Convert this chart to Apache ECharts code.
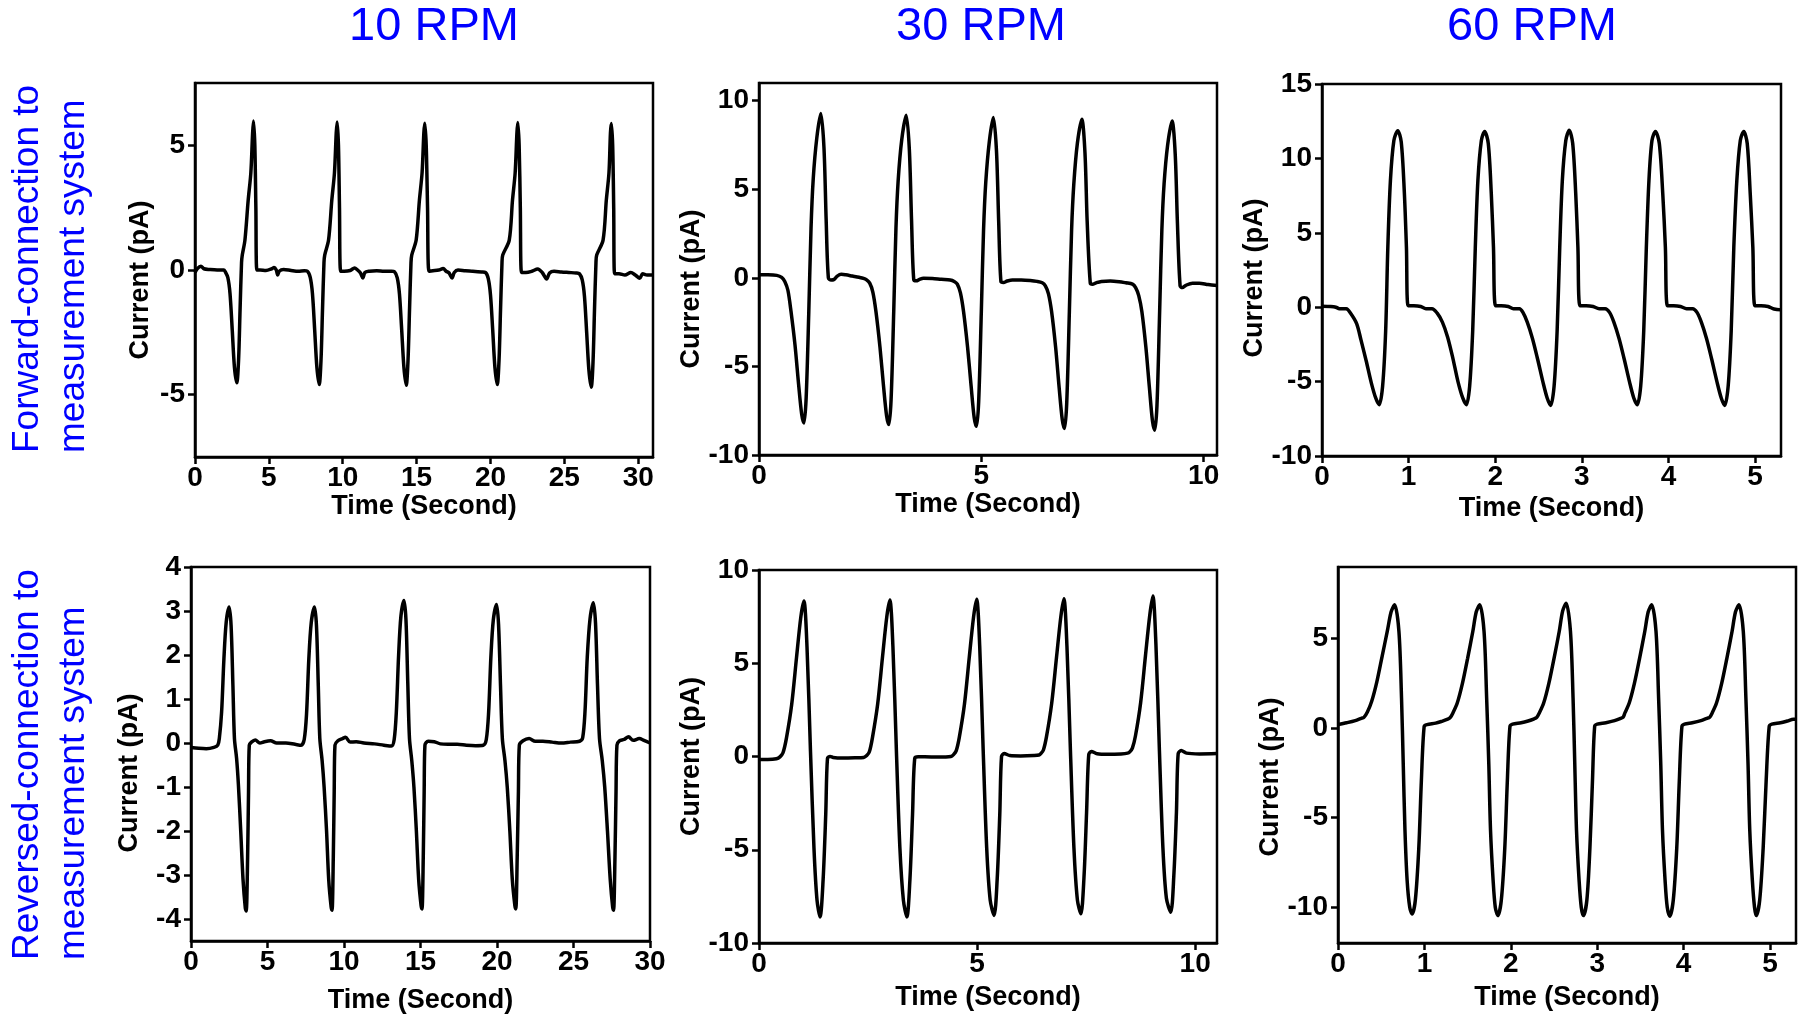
<!DOCTYPE html>
<html><head><meta charset="utf-8">
<script src="https://cdn.jsdelivr.net/npm/echarts@6/dist/echarts.min.js"></script>
<style>html,body{margin:0;padding:0;background:#fff}#c{width:1803px;height:1018px}</style>
</head><body><div id="c"></div>
<script>
// ---------- text ----------
const columnTitles = ['10 RPM', '30 RPM', '60 RPM'];
const rowLabels = ['Forward-connection to\nmeasurement system', 'Reversed-connection to\nmeasurement system'];
const xName = 'Time (Second)';
const yName = 'Current (pA)';

// ---------- tick labels ----------
const xTicks10 = [0, 5, 10, 15, 20, 25, 30];
const xTicks30 = [0, 5, 10];
const xTicks60 = [0, 1, 2, 3, 4, 5];
const yTicksFwd10 = [-5, 0, 5];
const yTicksFwd30 = [-10, -5, 0, 5, 10];
const yTicksFwd60 = [-10, -5, 0, 5, 10, 15];
const yTicksRev10 = [-4, -3, -2, -1, 0, 1, 2, 3, 4];
const yTicksRev30 = [-10, -5, 0, 5, 10];
const yTicksRev60 = [-10, -5, 0, 5];

// ---------- series values [time s, current pA] ----------
const fwd10 = [
[0,-0.1],[0.15,0.05],[0.4,0.15],[0.6,0.05],[1.0,0.02],[1.5,0.0],[1.95,0.0],
[2.03,-0.05],[2.22,-0.3],[2.37,-0.95],[2.52,-2.4],[2.67,-3.9],[2.83,-4.52],[2.95,-3.6],[3.05,-1.6],[3.15,0.3],[3.2,0.6],[3.38,1.2],[3.6,2.8],[3.78,3.9],[3.9,5.5],[3.96,5.98],[4.05,5.0],[4.12,2.5],[4.19,0.0],
[4.4,0.0],[4.8,-0.02],[5.2,0.05],[5.35,0.1],[5.5,0.0],[5.6,-0.2],[5.7,-0.05],[6.0,0.02],[6.5,-0.02],[7.0,-0.05],[7.4,-0.03],
[7.61,-0.05],[7.8,-0.3],[7.95,-0.95],[8.1,-2.4],[8.25,-3.9],[8.41,-4.59],[8.53,-3.6],[8.63,-1.6],[8.73,0.3],[8.78,0.6],[9.04,1.2],[9.26,2.8],[9.44,3.9],[9.56,5.5],[9.62,5.94],[9.71,5.0],[9.78,2.5],[9.86,-0.05],
[10.1,-0.05],[10.5,-0.02],[10.8,0.08],[11.0,0.0],[11.2,-0.12],[11.36,-0.32],[11.5,-0.1],[11.8,-0.05],[12.3,-0.03],[12.8,-0.05],[13.3,-0.05],
[13.5,-0.07],[13.69,-0.32],[13.84,-0.97],[13.99,-2.4],[14.14,-3.9],[14.3,-4.62],[14.42,-3.6],[14.52,-1.6],[14.62,0.3],[14.67,0.6],[14.97,1.2],[15.19,2.8],[15.37,3.9],[15.49,5.5],[15.55,5.89],[15.65,5.0],[15.74,2.5],[15.84,-0.05],
[16.1,-0.03],[16.5,0.0],[16.8,0.06],[17.0,-0.05],[17.2,-0.12],[17.4,-0.32],[17.55,-0.1],[17.8,0.0],[18.3,-0.03],[18.8,-0.05],[19.4,-0.08],
[19.66,-0.1],[19.85,-0.35],[20.0,-1.0],[20.15,-2.4],[20.3,-3.9],[20.46,-4.59],[20.58,-3.6],[20.68,-1.6],[20.78,0.3],[20.83,0.6],[21.27,1.2],[21.49,2.8],[21.67,3.9],[21.79,5.5],[21.85,5.92],[21.94,5.0],[22.02,2.5],[22.1,-0.1],
[22.4,-0.1],[22.8,-0.05],[23.2,0.04],[23.5,-0.1],[23.8,-0.36],[24.0,-0.12],[24.3,-0.05],[24.8,-0.08],[25.3,-0.1],[25.8,-0.12],
[26.02,-0.15],[26.21,-0.4],[26.36,-1.05],[26.51,-2.5],[26.66,-4.0],[26.82,-4.7],[26.94,-3.7],[27.04,-1.6],[27.14,0.3],[27.19,0.6],[27.62,1.2],[27.84,2.8],[28.02,3.9],[28.12,5.5],[28.18,5.88],[28.27,5.0],[28.34,2.5],[28.4,-0.15],
[28.7,-0.15],[29.1,-0.2],[29.5,-0.1],[29.8,-0.2],[30.1,-0.33],[30.3,-0.15],[30.6,-0.2],[31.0,-0.2]
];

const fwd30 = [
[0,0.17],[0.2,0.17],[0.4,0.14],[0.51,0.03],[0.58,-0.2],[0.65,-0.7],[0.72,-1.9],[0.81,-3.8],[0.89,-6.0],[0.96,-7.7],[1.01,-8.19],[1.06,-6.8],[1.12,-1.9],[1.17,2.8],[1.22,5.6],[1.3,7.9],[1.39,9.28],[1.46,7.4],[1.51,3.3],[1.56,0.0],[1.62,-0.12],[1.68,-0.1],[1.76,0.1],[1.85,0.2],[1.95,0.17],[2.1,0.1],[2.25,0.03],[2.35,-0.03],
[2.42,-0.12],[2.49,-0.3],[2.56,-0.8],[2.63,-1.9],[2.72,-3.9],[2.8,-6.1],[2.87,-7.8],[2.92,-8.28],[2.97,-6.9],[3.03,-1.9],[3.08,2.8],[3.13,5.5],[3.21,7.8],[3.31,9.18],[3.38,7.3],[3.43,3.3],[3.48,-0.1],[3.54,-0.17],[3.6,-0.1],[3.7,-0.02],[3.9,-0.03],[4.1,-0.08],[4.3,-0.12],
[4.39,-0.2],[4.46,-0.35],[4.53,-0.85],[4.6,-1.9],[4.69,-3.9],[4.77,-6.1],[4.84,-7.9],[4.89,-8.38],[4.94,-7.0],[5.0,-1.9],[5.05,2.7],[5.1,5.4],[5.18,7.7],[5.27,9.05],[5.34,7.2],[5.39,3.2],[5.44,-0.2],[5.5,-0.26],[5.58,-0.18],[5.7,-0.12],[5.9,-0.12],[6.1,-0.15],[6.25,-0.2],
[6.37,-0.28],[6.44,-0.45],[6.51,-0.9],[6.58,-1.9],[6.67,-3.9],[6.75,-6.2],[6.82,-8.0],[6.87,-8.5],[6.92,-7.1],[6.98,-1.9],[7.03,2.7],[7.08,5.3],[7.16,7.6],[7.26,8.96],[7.33,7.1],[7.38,3.2],[7.45,-0.3],[7.5,-0.36],[7.58,-0.28],[7.7,-0.2],[7.9,-0.18],[8.1,-0.22],[8.25,-0.28],
[8.4,-0.35],[8.47,-0.55],[8.54,-1.0],[8.61,-1.9],[8.7,-3.9],[8.78,-6.2],[8.85,-8.1],[8.9,-8.6],[8.95,-7.2],[9.01,-1.9],[9.06,2.7],[9.11,5.3],[9.19,7.5],[9.29,8.86],[9.36,7.0],[9.41,3.1],[9.47,-0.45],[9.52,-0.55],[9.6,-0.42],[9.75,-0.3],[9.9,-0.3],[10.1,-0.38],[10.3,-0.43]
];

const fwd60 = [
[0,0.07],[0.1,0.05],[0.16,0.0],[0.2,-0.1],[0.28,-0.11],[0.33,-0.4],[0.4,-1.1],[0.45,-2.2],[0.51,-3.6],[0.57,-5.1],[0.62,-6.1],[0.66,-6.55],[0.7,-5.3],[0.735,-1.6],[0.76,4.0],[0.79,8.5],[0.83,11.2],[0.875,11.86],[0.915,11.1],[0.95,7.8],[0.975,4.0],[0.995,0.1],[1.06,0.1],[1.14,0.05],[1.2,-0.1],[1.27,-0.1],
[1.33,-0.4],[1.39,-1.0],[1.45,-2.0],[1.51,-3.4],[1.57,-5.0],[1.625,-6.1],[1.667,-6.55],[1.705,-5.3],[1.74,-1.6],[1.77,4.0],[1.8,8.5],[1.84,11.2],[1.878,11.81],[1.92,11.0],[1.955,7.6],[1.98,4.0],[2.005,0.1],[2.07,0.1],[2.15,0.05],[2.21,-0.1],[2.28,-0.1],
[2.32,-0.35],[2.37,-1.0],[2.43,-2.1],[2.49,-3.5],[2.55,-5.0],[2.6,-6.1],[2.64,-6.6],[2.68,-5.3],[2.715,-1.6],[2.745,4.0],[2.775,8.5],[2.815,11.2],[2.855,11.9],[2.895,11.0],[2.93,7.6],[2.955,4.0],[2.98,0.1],[3.05,0.1],[3.13,0.05],[3.2,-0.1],[3.27,-0.1],
[3.32,-0.35],[3.37,-1.0],[3.43,-2.1],[3.49,-3.5],[3.55,-5.0],[3.6,-6.1],[3.64,-6.55],[3.68,-5.3],[3.715,-1.6],[3.745,4.0],[3.775,8.5],[3.81,11.2],[3.85,11.81],[3.895,11.0],[3.935,7.6],[3.965,4.0],[3.99,0.1],[4.06,0.1],[4.14,0.05],[4.21,-0.1],[4.28,-0.1],
[4.33,-0.35],[4.38,-1.0],[4.44,-2.1],[4.5,-3.5],[4.56,-5.0],[4.61,-6.1],[4.65,-6.6],[4.69,-5.3],[4.725,-1.6],[4.755,4.0],[4.79,8.5],[4.83,11.2],[4.87,11.81],[4.91,11.0],[4.945,7.6],[4.975,4.0],[5.0,0.1],[5.07,0.1],[5.15,0.05],[5.22,-0.12],[5.3,-0.18]
];

const rev10 = [
[0,-0.1],[0.5,-0.12],[1.0,-0.13],[1.5,-0.1],[1.75,-0.05],
[1.85,0.1],[2.0,0.7],[2.15,1.9],[2.3,2.74],[2.49,3.09],[2.62,2.67],[2.74,1.3],[2.84,0.1],[2.98,-0.35],[3.1,-0.96],[3.25,-2.0],[3.4,-3.1],[3.55,-3.75],[3.61,-3.82],[3.7,-2.6],[3.76,-1.1],[3.81,-0.05],[3.95,0.02],[4.2,0.07],[4.5,0.0],[4.8,0.03],[5.2,0.05],[5.6,0.0],[6.2,0.0],[6.8,-0.03],[7.2,-0.05],
[7.4,0.08],[7.55,0.65],[7.7,1.9],[7.86,2.74],[8.07,3.09],[8.2,2.67],[8.32,1.3],[8.42,0.1],[8.57,-0.4],[8.7,-1.0],[8.86,-2.0],[9.0,-3.1],[9.16,-3.73],[9.22,-3.8],[9.3,-2.6],[9.36,-1.1],[9.41,-0.05],[9.6,0.05],[9.9,0.1],[10.1,0.13],[10.4,0.02],[10.8,0.03],[11.3,0.0],[12.0,-0.02],[12.6,-0.05],[13.1,-0.07],
[13.28,0.08],[13.42,0.7],[13.57,2.0],[13.72,2.88],[13.92,3.24],[14.05,2.8],[14.17,1.35],[14.28,0.1],[14.43,-0.4],[14.57,-1.0],[14.73,-2.0],[14.88,-3.1],[15.04,-3.7],[15.1,-3.77],[15.18,-2.6],[15.24,-1.1],[15.29,-0.05],[15.5,0.04],[15.9,0.03],[16.3,-0.02],[16.8,-0.03],[17.4,-0.03],[18.0,-0.05],[18.6,-0.06],[19.1,-0.05],
[19.3,0.08],[19.45,0.68],[19.6,1.95],[19.76,2.8],[19.97,3.15],[20.1,2.7],[20.23,1.3],[20.35,0.1],[20.52,-0.4],[20.67,-1.0],[20.84,-2.0],[21.0,-3.1],[21.17,-3.7],[21.23,-3.77],[21.32,-2.6],[21.4,-1.1],[21.46,-0.05],[21.7,0.05],[22.1,0.1],[22.5,0.04],[23.0,0.04],[23.6,0.02],[24.2,0.0],[24.8,0.02],[25.4,0.04],
[25.6,0.12],[25.75,0.7],[25.9,1.95],[26.08,2.82],[26.3,3.19],[26.44,2.72],[26.57,1.3],[26.7,0.1],[26.88,-0.4],[27.04,-1.0],[27.22,-2.0],[27.4,-3.1],[27.56,-3.73],[27.62,-3.8],[27.71,-2.6],[27.78,-1.1],[27.84,-0.05],[28.0,0.05],[28.3,0.08],[28.6,0.14],[28.9,0.06],[29.3,0.1],[29.6,0.06],[30,0.0]
];

const rev30 = [
[0,-0.16],[0.2,-0.16],[0.4,-0.12],[0.48,-0.02],[0.55,0.2],[0.63,1.0],[0.75,2.8],[0.86,5.3],[0.96,7.5],[1.03,8.34],[1.1,5.9],[1.18,0.3],[1.26,-4.9],[1.33,-7.7],[1.4,-8.6],[1.47,-6.6],[1.53,-3.1],[1.57,-0.1],[1.63,0.0],[1.7,-0.05],[1.9,-0.08],[2.2,-0.07],[2.4,-0.05],
[2.47,0.05],[2.53,0.25],[2.6,1.0],[2.72,2.8],[2.83,5.3],[2.93,7.5],[3.0,8.39],[3.07,5.9],[3.15,0.3],[3.23,-4.9],[3.31,-7.7],[3.39,-8.6],[3.46,-6.6],[3.52,-3.1],[3.57,-0.1],[3.65,-0.02],[3.8,-0.02],[4.1,-0.03],[4.4,0.0],
[4.46,0.1],[4.52,0.3],[4.59,1.0],[4.71,2.8],[4.82,5.3],[4.92,7.5],[4.99,8.43],[5.06,5.9],[5.14,0.3],[5.22,-4.9],[5.3,-7.7],[5.39,-8.52],[5.46,-6.6],[5.52,-3.1],[5.56,0.0],[5.62,0.16],[5.75,0.05],[6.0,0.03],[6.3,0.05],[6.42,0.08],
[6.46,0.15],[6.52,0.35],[6.59,1.05],[6.71,2.85],[6.82,5.3],[6.92,7.5],[6.99,8.46],[7.06,5.9],[7.14,0.3],[7.22,-4.9],[7.3,-7.7],[7.38,-8.43],[7.45,-6.5],[7.51,-3.0],[7.56,0.1],[7.62,0.27],[7.75,0.15],[8.0,0.12],[8.3,0.14],[8.45,0.18],
[8.5,0.25],[8.56,0.45],[8.63,1.1],[8.75,2.9],[8.86,5.4],[8.96,7.6],[9.03,8.6],[9.1,6.0],[9.18,0.3],[9.26,-4.9],[9.34,-7.6],[9.44,-8.35],[9.51,-6.4],[9.57,-3.0],[9.61,0.15],[9.68,0.32],[9.8,0.18],[10.1,0.14],[10.5,0.16]
];

const rev60 = [
[0,0.2],[0.1,0.3],[0.2,0.42],[0.27,0.55],[0.3,0.6],[0.34,0.9],[0.39,1.5],[0.45,2.6],[0.51,4.0],[0.57,5.4],[0.615,6.5],[0.655,6.89],[0.705,5.4],[0.735,1.7],[0.755,-2.0],[0.775,-5.7],[0.8,-8.5],[0.83,-10.0],[0.858,-10.38],[0.895,-9.6],[0.935,-6.7],[0.965,-2.9],[0.997,0.1],[1.03,0.2],[1.13,0.28],[1.2,0.38],[1.27,0.5],[1.3,0.6],
[1.33,0.85],[1.38,1.4],[1.44,2.5],[1.5,3.9],[1.56,5.4],[1.6,6.5],[1.64,6.89],[1.69,5.4],[1.72,1.7],[1.745,-2.0],[1.765,-5.7],[1.795,-8.5],[1.82,-10.0],[1.85,-10.47],[1.89,-9.6],[1.93,-6.7],[1.96,-2.9],[1.99,0.1],[2.02,0.22],[2.12,0.3],[2.2,0.4],[2.27,0.52],[2.3,0.6],
[2.33,0.85],[2.38,1.4],[2.44,2.5],[2.5,3.9],[2.56,5.4],[2.6,6.55],[2.64,6.98],[2.69,5.4],[2.72,1.7],[2.74,-2.0],[2.76,-5.7],[2.79,-8.5],[2.815,-10.0],[2.84,-10.47],[2.88,-9.6],[2.915,-6.7],[2.945,-2.9],[2.97,0.1],[3.0,0.22],[3.1,0.3],[3.2,0.42],[3.27,0.55],[3.3,0.62],
[3.32,0.85],[3.37,1.4],[3.43,2.5],[3.49,3.9],[3.55,5.4],[3.59,6.5],[3.63,6.89],[3.68,5.4],[3.71,1.7],[3.735,-2.0],[3.755,-5.7],[3.785,-8.5],[3.81,-10.0],[3.84,-10.5],[3.88,-9.6],[3.92,-6.7],[3.95,-2.9],[3.98,0.1],[4.01,0.22],[4.1,0.3],[4.2,0.42],[4.27,0.55],[4.3,0.6],
[4.33,0.85],[4.38,1.4],[4.44,2.5],[4.5,3.9],[4.56,5.4],[4.6,6.5],[4.64,6.89],[4.69,5.4],[4.72,1.7],[4.745,-2.0],[4.765,-5.7],[4.795,-8.5],[4.82,-10.0],[4.84,-10.47],[4.88,-9.6],[4.92,-6.7],[4.955,-2.9],[4.99,0.1],[5.02,0.22],[5.12,0.3],[5.2,0.4],[5.27,0.5],[5.3,0.5]
];

// ---------- layout (positions / styles) ----------
const BLUE = '#0000ff';
const FONT = "'Liberation Sans', Arial, sans-serif";
const panels = [
  {data: fwd10, grid: {left: 195, top: 83, width: 458, height: 374}, x: [0, 31],   xt: xTicks10, y: [-7.5, 7.5], yt: yTicksFwd10, yGap: 41, yShift: 10, xGap: 34},
  {data: fwd30, grid: {left: 759, top: 83, width: 458, height: 372}, x: [0, 10.3], xt: xTicks30, y: [-10, 11],   yt: yTicksFwd30, yGap: 42, yShift: 20, xGap: 34},
  {data: fwd60, grid: {left: 1322, top: 84, width: 459, height: 372}, x: [0, 5.3], xt: xTicks60, y: [-10, 15],   yt: yTicksFwd60, yGap: 40, yShift: 8,  xGap: 39},
  {data: rev10, grid: {left: 191, top: 567, width: 459, height: 374}, x: [0, 30],  xt: xTicks10, y: [-4.5, 4],   yt: yTicksRev10, yGap: 48, yShift: 19, xGap: 46},
  {data: rev30, grid: {left: 759, top: 570, width: 458, height: 373}, x: [0, 10.5], xt: xTicks30, y: [-10, 10],  yt: yTicksRev30, yGap: 47, yShift: 0,  xGap: 41},
  {data: rev60, grid: {left: 1338, top: 567, width: 458, height: 376}, x: [0, 5.3], xt: xTicks60, y: [-12, 9],   yt: yTicksRev60, yGap: 41, yShift: 22, xGap: 41}
];

const labelStyle = {fontSize: 28, fontWeight: 'bold', color: '#000', fontFamily: FONT};
const lineBlack = {color: '#000', width: 2.5};

const option = {
  animation: false,
  backgroundColor: '#fff',
  grid: panels.map(p => Object.assign({show: true, borderColor: '#000', borderWidth: 2.5, containLabel: false, outerBoundsMode: 'none'}, p.grid)),
  xAxis: panels.map((p, i) => ({
    type: 'value', gridIndex: i, min: p.x[0], max: p.x[1],
    splitLine: {show: false},
    axisLine: {show: true, onZero: false, lineStyle: lineBlack},
    axisTick: {show: true, inside: false, length: 7, lineStyle: lineBlack, customValues: p.xt},
    axisLabel: Object.assign({customValues: p.xt, margin: 7}, labelStyle),
    name: xName, nameLocation: 'middle', nameGap: p.xGap,
    nameTextStyle: {fontSize: 27, fontWeight: 'bold', color: '#000', fontFamily: FONT}
  })),
  yAxis: panels.map((p, i) => ({
    type: 'value', gridIndex: i, min: p.y[0], max: p.y[1],
    splitLine: {show: false},
    axisLine: {show: true, onZero: false, lineStyle: lineBlack},
    axisTick: {show: true, inside: false, length: 7, lineStyle: lineBlack, customValues: p.yt},
    axisLabel: Object.assign({customValues: p.yt, margin: 10}, labelStyle),
    name: yName, nameLocation: 'middle', nameRotate: 90, nameGap: p.yGap,
    nameTextStyle: {fontSize: 27, fontWeight: 'bold', color: '#000', fontFamily: FONT, padding: [0, 2 * p.yShift, 0, 0]}
  })),
  series: panels.map((p, i) => ({
    type: 'line', xAxisIndex: i, yAxisIndex: i, data: p.data,
    showSymbol: false, smooth: 0.3, clip: true,
    lineStyle: {color: '#000', width: 3.5}
  })),
  graphic: [
    {type: 'text', x: 434, y: 27, style: {text: columnTitles[0], fill: BLUE, fontSize: 47, fontFamily: FONT, textAlign: 'center', textVerticalAlign: 'middle'}},
    {type: 'text', x: 981, y: 27, style: {text: columnTitles[1], fill: BLUE, fontSize: 47, fontFamily: FONT, textAlign: 'center', textVerticalAlign: 'middle'}},
    {type: 'text', x: 1532, y: 27, style: {text: columnTitles[2], fill: BLUE, fontSize: 47, fontFamily: FONT, textAlign: 'center', textVerticalAlign: 'middle'}},
    {type: 'text', x: 5, y: 453, rotation: Math.PI / 2, style: {text: rowLabels[0], fill: BLUE, fontSize: 37, lineHeight: 46, fontFamily: FONT, textAlign: 'left', textVerticalAlign: 'top'}},
    {type: 'text', x: 5, y: 960, rotation: Math.PI / 2, style: {text: rowLabels[1], fill: BLUE, fontSize: 37, lineHeight: 46, fontFamily: FONT, textAlign: 'left', textVerticalAlign: 'top'}}
  ]
};

const chart = echarts.init(document.getElementById('c'), null, {renderer: 'canvas', width: 1803, height: 1018});
chart.setOption(option);
</script>
</body></html>
